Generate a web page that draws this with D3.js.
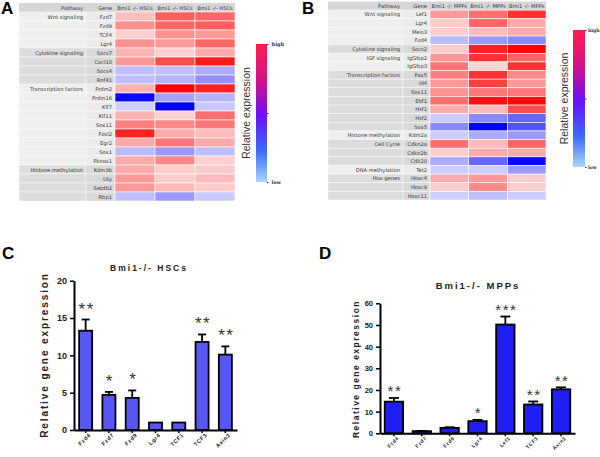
<!DOCTYPE html>
<html>
<head>
<meta charset="utf-8">
<script src="https://cdn.jsdelivr.net/npm/d3@7"></script>
<style>
  body { margin: 0; background: #fff; }
  svg { display: block; }
</style>
</head>
<body>
<div id="vis"></div>
<script>
// ---- panel A: heatmap, Bmi1-/- HSCs (relative expression, -3 = blue .. 3 = red)
const colsA = ["Bmi1 -/- HSCs", "Bmi1 -/- HSCs", "Bmi1 -/- HSCs"];
const genesA = ["Fzd7", "Fzd9", "TCF4", "Lgr4", "Socs7", "Cxcl10", "Socs4", "Rnf41", "Prdm2", "Prdm16",
  "Klf7", "Klf11", "Sox11", "Fosl2", "Egr2", "Sox1", "Pknox1", "Kdm3b", "Uty", "Setdb2", "Rbp1"];
const pathwaysA = ["Wnt signaling", "", "", "", "Cytokine signaling", "", "", "", "Transcription factors", "",
  "", "", "", "", "", "", "", "Histone methylation", "", "", ""];
const exprA = [
  [0.75, 1.9, 1.8], [1.3, 1.8, 1.9], [0.55, 1.3, 1.2], [1.3, 1.2, 1.8], [0.9, 0.55, 1.0],
  [1.2, 2.1, 2.7], [-0.75, -0.75, -1.0], [-0.75, -0.9, -1.3], [0.9, 3.0, 2.6], [-2.9, -1.1, -0.9],
  [-0.55, -3.0, -0.65], [0.9, 0.55, 1.7], [1.5, 1.4, 1.6], [2.6, 1.0, 0.8], [1.0, 1.6, 1.0],
  [-0.8, -1.2, -0.75], [1.0, 1.4, 0.55], [1.0, 0.6, 0.6], [1.2, 0.6, 0.8], [1.2, 0.8, 0.6],
  [-0.75, -1.2, -0.65]
];

// ---- panel B: heatmap, Bmi1-/- MPPs
const colsB = ["Bmi1 -/- MPPs", "Bmi1 -/- MPPs", "Bmi1 -/- MPPs"];
const genesB = ["Lef1", "Lgr4", "Meis3", "Fzd4", "Socs2", "Igf2bp2", "Igf2bp3", "Pax5", "Id4", "Sox11",
  "Ebf1", "Hsf1", "Hsf2", "Sox5", "Kdm2a", "Cdkn2a", "Cdkn2b", "Cdk20", "Tet2", "Hoxc4", "Hoxc9", "Hoxc11"];
const pathwaysB = ["Wnt signaling", "", "", "", "Cytokine signaling", "IGF signaling", "", "Transcription factors", "", "",
  "", "", "", "", "Histone methylation", "Cell Cycle", "", "", "DNA methylation", "Hox genes", "", ""];
const exprB = [
  [1.2, 1.7, 2.4], [0.6, 1.8, 1.0], [0.6, 0.8, 1.0], [-0.8, -1.2, -1.4], [0.6, 2.6, 3.0],
  [1.2, 2.4, 1.8], [1.6, 0.5, 2.4], [1.5, 2.4, 1.4], [1.2, 2.25, 1.2], [1.3, 1.6, 1.6],
  [1.7, 2.8, 2.9], [1.0, 0.8, 2.1], [-0.6, -1.4, -1.8], [-1.4, -3.0, -2.0], [-0.6, -1.0, -1.2],
  [1.7, 0.8, 1.8], [0.6, 1.0, 1.0], [-1.0, -1.8, -2.9], [-0.6, -0.6, -1.2], [1.0, 1.2, 0.6],
  [0.6, 1.4, 0.6], [-0.55, -0.75, -0.6]
];

// ---- panel C: qPCR, Bmi1-/- HSCs
const genesC = ["Fzd4", "Fzd7", "Fzd9", "Lgr4", "TCF1", "TCF3", "Axin2"];
const meanC = [13.3, 4.7, 4.3, 1.0, 1.0, 11.8, 10.1];
const errC = [1.5, 0.4, 1.0, 0, 0, 1.0, 1.1];
const starsC = ["**", "*", "*", "", "", "**", "**"];
const ticksC = [0, 5, 10, 15, 20];

// ---- panel D: qPCR, Bmi1-/- MPPs
const genesD = ["Fzd4", "Fzd7", "Fzd9", "Lgr4", "Lef1", "TCF3", "Axin2"];
const meanD = [14.6, 1.0, 2.5, 5.6, 50.2, 13.3, 20.3];
const errD = [1.7, 0.1, 0.3, 0.6, 3.7, 1.4, 0.9];
const starsD = ["**", "", "", "*", "***", "**", "**"];
const ticksD = [0, 10, 20, 30, 40, 50, 60];

const W = 600, H = 457;
const svg = d3.select("#vis").append("svg").attr("width", W).attr("height", H);

const heatColor = d3.scaleLinear().domain([-3, 0, 3]).range(["#0000ff", "#ffffff", "#ff0000"]);
const tableFont = "'DejaVu Sans', Verdana, sans-serif";
const chartFont = "'Liberation Sans', Arial, sans-serif";

function heatmap(p) {
  const g = svg.append("g");
  const n = p.genes.length;
  const y = d3.scaleBand().domain(d3.range(n + 1)).range([p.top, p.bottom]);
  const x = d3.scaleBand().domain(d3.range(p.cols.length)).range([p.dataX0, p.dataX1]);

  // shading group: toggles each time a new pathway label starts
  let grp = 0;
  const shade = p.pathways.map((s, i) => { if (s && i > 0) grp++; return grp % 2; });

  // header row
  g.append("rect").attr("x", p.x0).attr("y", y(0)).attr("width", p.dataX1 - p.x0).attr("height", y.bandwidth())
    .attr("fill", "#d6d6d6");
  g.append("text").attr("x", p.pathX - 3).attr("y", y(0) + y.bandwidth() / 2).text("Pathway");
  g.append("text").attr("x", p.dataX0 - 3).attr("y", y(0) + y.bandwidth() / 2).text("Gene");
  p.cols.forEach((c, j) => {
    g.append("text").attr("x", x(j) + x.bandwidth() / 2).attr("y", y(0) + y.bandwidth() / 2)
      .attr("text-anchor", "middle").text(c);
  });

  // label columns
  p.genes.forEach((gn, i) => {
    const yy = y(i + 1);
    g.append("rect").attr("x", p.x0).attr("y", yy).attr("width", p.pathX - p.x0).attr("height", y.bandwidth())
      .attr("fill", shade[i] ? "#dcdcdc" : "#efefef").attr("stroke", "#fafafa").attr("stroke-width", 0.5);
    g.append("rect").attr("x", p.pathX).attr("y", yy).attr("width", p.dataX0 - p.pathX).attr("height", y.bandwidth())
      .attr("fill", shade[i] ? "#d9d9d9" : "#ebebeb").attr("stroke", "#fafafa").attr("stroke-width", 0.5);
    if (p.pathways[i]) {
      g.append("text").attr("x", p.pathX - 3).attr("y", yy + y.bandwidth() / 2).text(p.pathways[i]);
    }
    g.append("text").attr("x", p.dataX0 - 3).attr("y", yy + y.bandwidth() / 2).text(gn);
  });
  g.selectAll("text").filter(function () { return !this.getAttribute("text-anchor"); })
    .attr("text-anchor", "end");
  g.selectAll("text").attr("font-family", tableFont).attr("font-size", 5.2).attr("fill", "#3a3a3a")
    .attr("dominant-baseline", "central");

  // data cells
  p.values.forEach((row, i) => {
    g.selectAll(null).data(row).enter().append("rect")
      .attr("x", (d, j) => x(j)).attr("y", y(i + 1))
      .attr("width", x.bandwidth()).attr("height", y.bandwidth())
      .attr("fill", d => heatColor(d))
      .attr("stroke", "#ffffff").attr("stroke-width", 0.6);
  });
}

let gradN = 0;
function colorbar(p) {
  const id = "grad" + (gradN++);
  const grad = svg.append("defs").append("linearGradient").attr("id", id)
    .attr("x1", 0).attr("y1", 0).attr("x2", 0).attr("y2", 1);
  [["0%", "#ff1f4a"], ["28%", "#d0108c"], ["52%", "#6a10ff"], ["78%", "#3a6cff"], ["100%", "#a9d6ff"]]
    .forEach(s => grad.append("stop").attr("offset", s[0]).attr("stop-color", s[1]));
  svg.append("rect").attr("x", p.x).attr("y", p.top).attr("width", p.w).attr("height", p.bottom - p.top)
    .attr("fill", "url(#" + id + ")");
  const s = d3.scaleLinear().domain([0, 1]).range([p.bottom, p.top]);
  const ax = svg.append("g").attr("transform", `translate(${p.x + p.w},0)`)
    .call(d3.axisRight(s).tickValues([0, 0.5, 1]).tickFormat(d => d === 1 ? "high" : d === 0 ? "low" : "")
      .tickSize(1.5).tickPadding(p.pad));
  ax.select(".domain").remove();
  ax.selectAll("line").attr("stroke", "#333");
  ax.selectAll("text").attr("font-family", "'DejaVu Serif', serif").attr("font-size", p.font)
    .attr("font-weight", "bold").attr("fill", "#333");
  svg.append("text").attr("transform", `translate(${p.labelX},${(p.top + p.bottom) / 2}) rotate(-90)`)
    .attr("text-anchor", "middle").attr("font-family", chartFont).attr("font-size", 10.5)
    .attr("fill", "#333").text("Relative expression");
}

function barChart(p) {
  const g = svg.append("g");
  const x = d3.scaleBand().domain(p.genes).range([p.x0, p.x1]).paddingInner(p.pad).paddingOuter(p.pad / 2);
  const y = d3.scaleLinear().domain([0, p.max]).range([p.y0, p.y1]);

  g.selectAll(".bar").data(p.genes).enter().append("rect")
    .attr("x", d => x(d)).attr("y", (d, i) => y(p.mean[i]))
    .attr("width", x.bandwidth()).attr("height", (d, i) => y(0) - y(p.mean[i]))
    .attr("fill", p.fill).attr("stroke", "#000").attr("stroke-width", 1.8);

  p.genes.forEach((d, i) => {
    if (!p.err[i]) return;
    const cx = x(d) + x.bandwidth() / 2, top = y(p.mean[i] + p.err[i]);
    g.append("line").attr("x1", cx).attr("x2", cx).attr("y1", y(p.mean[i])).attr("y2", top)
      .attr("stroke", "#000").attr("stroke-width", 1.8);
    g.append("line").attr("x1", cx - p.cap).attr("x2", cx + p.cap).attr("y1", top).attr("y2", top)
      .attr("stroke", "#000").attr("stroke-width", 1.8);
  });

  p.genes.forEach((d, i) => {
    if (!p.stars[i]) return;
    g.append("text").attr("x", x(d) + x.bandwidth() / 2 + 1)
      .attr("y", y(p.mean[i] + p.err[i]) - p.starGap)
      .attr("text-anchor", "middle").attr("font-family", chartFont).attr("font-size", p.starSize)
      .attr("letter-spacing", 1.5).attr("fill", "#333").text(p.stars[i]);
  });

  const ya = g.append("g").attr("transform", `translate(${p.x0},0)`)
    .call(d3.axisLeft(y).tickValues(p.ticks).tickSize(4).tickSizeOuter(0).tickPadding(3));
  const xa = g.append("g").attr("transform", `translate(0,${p.y0})`)
    .call(d3.axisBottom(x).tickSize(3).tickSizeOuter(0).tickPadding(3));
  g.selectAll(".domain").attr("stroke", "#000").attr("stroke-width", 2);
  g.selectAll(".tick line").attr("stroke", "#000").attr("stroke-width", 1.5);
  ya.selectAll("text").attr("font-family", chartFont).attr("font-weight", "bold")
    .attr("font-size", p.tickSize).attr("fill", "#222");
  xa.selectAll("text").attr("font-family", chartFont).attr("font-weight", "bold")
    .attr("font-size", p.xlabSize).attr("fill", "#222").attr("letter-spacing", 0.6)
    .attr("text-anchor", "end").attr("dy", "0.3em")
    .attr("transform", "rotate(-45)");

  g.append("text").attr("x", p.titleX).attr("y", p.titleY).attr("text-anchor", "middle")
    .attr("font-family", chartFont).attr("font-weight", "bold").attr("font-size", p.titleSize)
    .attr("letter-spacing", p.titleSpacing).attr("fill", "#222").text(p.title);
  g.append("text").attr("transform", `translate(${p.ylabX},${p.ylabY}) rotate(-90)`)
    .attr("text-anchor", "middle").attr("font-family", chartFont).attr("font-weight", "bold")
    .attr("font-size", p.ylabSize).attr("letter-spacing", p.ylabSpacing).attr("fill", "#222")
    .text("Relative gene expression");
}

heatmap({ genes: genesA, pathways: pathwaysA, values: exprA, cols: colsA,
  x0: 19, pathX: 86, dataX0: 115, dataX1: 235, top: 3, bottom: 201 });
colorbar({ x: 256, w: 11, top: 44, bottom: 182, labelX: 250, pad: 3, font: 5 });

heatmap({ genes: genesB, pathways: pathwaysB, values: exprB, cols: colsB,
  x0: 328, pathX: 403, dataX0: 430, dataX1: 546, top: 1.5, bottom: 200 });
colorbar({ x: 573, w: 12, top: 30, bottom: 167, labelX: 568, pad: 1.5, font: 4.6 });

barChart({ genes: genesC, mean: meanC, err: errC, stars: starsC, ticks: ticksC, max: 20,
  x0: 74, x1: 237, y0: 430, y1: 280.7, pad: 0.44, cap: 4, fill: "#5757f5",
  starSize: 17, starGap: 5, tickSize: 9, xlabSize: 5.5,
  title: "Bmi1-/- HSCs", titleX: 149, titleY: 271, titleSize: 8.5, titleSpacing: 2,
  ylabX: 48, ylabY: 355, ylabSize: 10, ylabSpacing: 1.9 });

barChart({ genes: genesD, mean: meanD, err: errD, stars: starsD, ticks: ticksD, max: 60,
  x0: 380, x1: 575, y0: 433.3, y1: 303.3, pad: 0.34, cap: 5, fill: "#1e1ef5",
  starSize: 15, starGap: 1.5, tickSize: 7.5, xlabSize: 5,
  title: "Bmi1-/- MPPs", titleX: 478, titleY: 289, titleSize: 9.5, titleSpacing: 2,
  ylabX: 359, ylabY: 369, ylabSize: 8.5, ylabSpacing: 1.5 });

// panel letters
[["A", 1, 14], ["B", 302, 14], ["C", 2, 259], ["D", 319, 259]].forEach(l => {
  svg.append("text").attr("x", l[1]).attr("y", l[2]).attr("font-family", chartFont)
    .attr("font-weight", "bold").attr("font-size", 17).attr("fill", "#000").text(l[0]);
});
</script>
</body>
</html>
